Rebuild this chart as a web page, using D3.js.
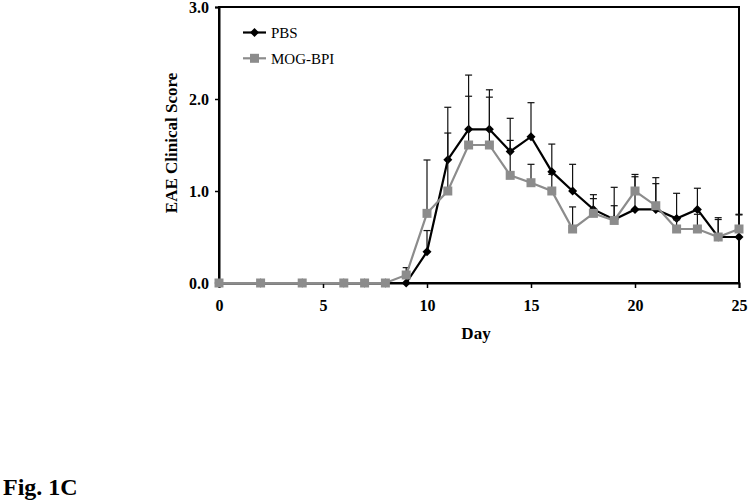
<!DOCTYPE html>
<html><head><meta charset="utf-8">
<script src="https://cdn.jsdelivr.net/npm/d3@7"></script>
<style>body{margin:0;background:#fff}svg{display:block}</style>
</head><body>
<svg id="c" width="750" height="504"></svg>
<script>
const days =      [0,2,4,6,7,8,9,10,11,12,13,14,15,16,17,18,19,20,21,22,23,24,25];
const pbsMean =   [0,0,0,0,0,0,0,0.34,1.34,1.67,1.67,1.43,1.59,1.21,1.00,0.80,0.69,0.80,0.80,0.70,0.80,0.50,0.50];
const pbsErr =    [0,0,0,0,0,0,0,0.23,0.57,0.59,0.43,0.36,0.37,0.30,0.29,0.16,0.35,0.38,0.345,0.275,0.23,0.21,0.24];
const mogMean =   [0,0,0,0,0,0,0.087,0.757,1.00,1.50,1.50,1.17,1.09,1.00,0.587,0.757,0.68,1.00,0.84,0.587,0.587,0.50,0.587];
const mogErr =    [0,0,0,0,0,0,0.08,0.58,0.63,0.53,0.52,0.38,0.20,0.18,0.24,0.16,0.16,0.155,0.24,0.10,0.16,0.19,0.16];
const xTicks = [0,5,10,15,20,25];
const yTicks = [0,1,2,3];
const seriesNames = ["PBS","MOG-BPI"];

const svg = d3.select("#c");
const L=219,R=739,T=7,B=283;
const x = d3.scaleLinear().domain([0,25]).range([L,R]);
const y = d3.scaleLinear().domain([0,3]).range([B,T]);
const font = "Liberation Serif, Times New Roman, DejaVu Serif, serif";

// frame
svg.append("rect").attr("x",L).attr("y",T).attr("width",R-L).attr("height",B-T)
  .attr("fill","none").attr("stroke","#000").attr("stroke-width",2);

// axes
const xa = svg.append("g").attr("transform",`translate(0,${B})`)
  .call(d3.axisBottom(x).tickValues(xTicks).tickFormat(d3.format("d")).tickSize(5).tickPadding(12));
const ya = svg.append("g").attr("transform",`translate(${L},0)`)
  .call(d3.axisLeft(y).tickValues(yTicks).tickFormat(d3.format(".1f")).tickSize(4).tickPadding(6));
[xa,ya].forEach(a=>{
  a.select(".domain").attr("stroke","#000").attr("stroke-width",2);
  a.selectAll(".tick line").attr("stroke","#000").attr("stroke-width",1.5);
  a.selectAll("text").attr("font-family",font).attr("font-weight","bold").attr("font-size",16).attr("fill","#000");
});

function drawSeries(mean, err, color, marker){
  const g = svg.append("g");
  const data = days.map((d,i)=>({d, m:mean[i], e:err[i]}));
  data.filter(p=>p.e>0).forEach(p=>{
    g.append("line").attr("x1",x(p.d)).attr("x2",x(p.d)).attr("y1",y(p.m)).attr("y2",y(p.m+p.e))
      .attr("stroke","#111").attr("stroke-width",1.2);
    g.append("line").attr("x1",x(p.d)-3.5).attr("x2",x(p.d)+3.5).attr("y1",y(p.m+p.e)).attr("y2",y(p.m+p.e))
      .attr("stroke","#111").attr("stroke-width",1.2);
  });
  g.append("path").datum(data).attr("fill","none").attr("stroke",color).attr("stroke-width",2.2)
    .attr("d",d3.line().x(p=>x(p.d)).y(p=>y(p.m)));
  g.selectAll(".m").data(data).join("path")
    .attr("transform",p=>`translate(${x(p.d)},${y(p.m)})`)
    .attr("d", marker==="diamond" ? "M0,-4.5L4.5,0L0,4.5L-4.5,0Z" : "M-4.5,-4.5H4.5V4.5H-4.5Z")
    .attr("fill",color);
}
drawSeries(pbsMean,pbsErr,"#000","diamond");
drawSeries(mogMean,mogErr,"#8c8c8c","square");

// legend
const leg = [{n:seriesNames[0],c:"#000",m:"diamond",y:32.5},{n:seriesNames[1],c:"#8c8c8c",m:"square",y:58.3}];
leg.forEach(l=>{
  svg.append("line").attr("x1",243).attr("x2",266).attr("y1",l.y).attr("y2",l.y).attr("stroke",l.c).attr("stroke-width",2.2);
  svg.append("path").attr("transform",`translate(254.5,${l.y})`)
    .attr("d", l.m==="diamond" ? "M0,-4.5L4.5,0L0,4.5L-4.5,0Z" : "M-4.5,-4.5H4.5V4.5H-4.5Z").attr("fill",l.c);
  svg.append("text").attr("x",271).attr("y",l.y).attr("dy","0.35em").attr("font-family",font)
    .attr("font-size",15).attr("fill","#000").text(l.n);
});

// axis titles
svg.append("text").attr("transform","translate(171,143) rotate(-90)").attr("text-anchor","middle")
  .attr("dy","0.35em").attr("font-family",font).attr("font-weight","bold").attr("font-size",17).text("EAE Clinical Score");
svg.append("text").attr("x",476).attr("y",333).attr("text-anchor","middle").attr("dy","0.35em")
  .attr("font-family",font).attr("font-weight","bold").attr("font-size",17).text("Day");
svg.append("text").attr("x",3).attr("y",495).attr("font-family",font).attr("font-weight","bold")
  .attr("font-size",24).text("Fig. 1C");
</script>
</body></html>
